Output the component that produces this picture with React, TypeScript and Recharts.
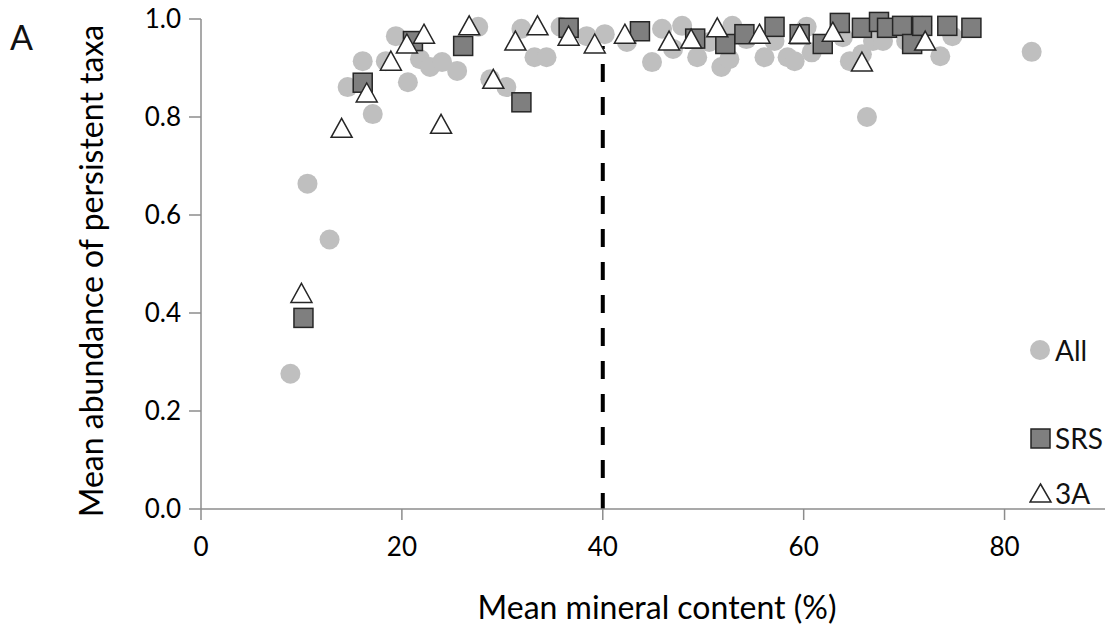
import { ScatterChart, Scatter, XAxis, YAxis, ReferenceLine, Label } from 'recharts'

// mean mineral content (%) vs mean abundance of persistent taxa
const allSites = [
  [8.9, 0.276], [10.6, 0.664], [12.8, 0.55], [14.6, 0.861], [16.1, 0.914], [17.1, 0.806],
  [18.4, 0.914], [19.4, 0.965], [20.6, 0.871], [21.8, 0.918], [22.8, 0.902], [24.0, 0.912],
  [25.5, 0.894], [27.6, 0.984], [28.8, 0.877], [30.4, 0.861], [31.9, 0.98], [33.2, 0.922],
  [34.4, 0.922], [35.8, 0.984], [38.4, 0.965], [40.2, 0.969], [42.4, 0.953], [44.9, 0.912],
  [45.9, 0.98], [47.0, 0.939], [47.9, 0.986], [49.4, 0.922], [50.6, 0.953], [51.8, 0.902],
  [52.6, 0.918], [52.9, 0.986], [54.3, 0.959], [56.1, 0.922], [57.1, 0.955], [58.4, 0.922],
  [59.1, 0.914], [60.3, 0.984], [60.8, 0.932], [63.9, 0.963], [64.6, 0.914], [65.8, 0.928],
  [66.3, 0.8], [66.9, 0.955], [67.9, 0.955], [70.2, 0.955], [71.8, 0.986], [73.6, 0.924],
  [74.8, 0.965], [82.7, 0.933],
]

const srsSites = [
  [10.2, 0.39], [16.1, 0.87], [21.1, 0.955], [26.1, 0.945], [31.9, 0.83], [36.6, 0.982],
  [43.7, 0.975], [49.2, 0.96], [52.2, 0.949], [54.1, 0.969], [57.1, 0.984], [59.6, 0.969],
  [61.9, 0.949], [63.6, 0.992], [65.8, 0.982], [67.5, 0.994], [68.3, 0.982], [69.8, 0.986],
  [70.8, 0.949], [71.8, 0.986], [74.3, 0.986], [76.7, 0.982],
]

const sites3A = [
  [10.0, 0.44], [14.0, 0.777], [16.5, 0.849], [18.9, 0.914], [20.5, 0.949], [22.2, 0.969],
  [23.9, 0.785], [26.7, 0.986], [29.1, 0.877], [31.3, 0.955], [33.5, 0.986], [36.6, 0.965],
  [39.2, 0.949], [42.2, 0.969], [46.6, 0.955], [48.8, 0.959], [51.4, 0.982], [55.6, 0.969],
  [59.6, 0.969], [62.9, 0.973], [65.8, 0.912], [72.1, 0.955],
]

const xTicks = [0, 20, 40, 60, 80]
const yTicks = [0, 0.2, 0.4, 0.6, 0.8, 1.0]
const threshold = 40
const thresholdTop = 0.945

const toPoints = (rows: number[][]) => rows.map(([mineral, abundance]) => ({ mineral, abundance }))

const FONT = 'Lato, "Open Sans", sans-serif'
const AXIS = '#8c8c8c'

const Dot = ({ cx, cy }: any) => <circle cx={cx} cy={cy} r={10} fill="#bfbfbf" />
const Square = ({ cx, cy }: any) => (
  <rect x={cx - 9.5} y={cy - 9.5} width={19} height={19} fill="#7f7f7f" stroke="#262626" strokeWidth={1.5} />
)
const Triangle = ({ cx, cy }: any) => (
  <polygon
    points={`${cx},${cy - 10} ${cx + 10.5},${cy + 9} ${cx - 10.5},${cy + 9}`}
    fill="#fff"
    stroke="#262626"
    strokeWidth={1.5}
  />
)

function LegendKey() {
  const row = { position: 'absolute', left: 0, display: 'flex', alignItems: 'center', height: 30 } as const
  return (
    <div style={{ position: 'absolute', left: 1029, top: 0, fontFamily: FONT, fontSize: 28, color: '#111' }}>
      <div style={{ ...row, top: 335 }}>
        <svg width={26} height={24}><circle cx={11} cy={12} r={10} fill="#bfbfbf" /></svg>
        <span>All</span>
      </div>
      <div style={{ ...row, top: 423 }}>
        <svg width={26} height={24}><rect x={2} y={3} width={19} height={19} fill="#7f7f7f" stroke="#262626" strokeWidth={1.5} /></svg>
        <span>SRS</span>
      </div>
      <div style={{ ...row, top: 478 }}>
        <svg width={26} height={24}><polygon points="11.5,3 22,21 1,21" fill="#fff" stroke="#262626" strokeWidth={1.5} /></svg>
        <span>3A</span>
      </div>
    </div>
  )
}

export default function App() {
  return (
    <div style={{ position: 'absolute', left: 0, top: 0, width: 1110, height: 628, background: '#fff' }}>
      <ScatterChart width={1110} height={628} margin={{ top: 19, right: 5, bottom: 0, left: 0 }}>
        <XAxis
          type="number"
          dataKey="mineral"
          domain={[0, 90]}
          ticks={xTicks}
          allowDataOverflow
          height={119}
          tickSize={11}
          tickMargin={18}
          axisLine={{ stroke: AXIS, strokeWidth: 1.5 }}
          tickLine={{ stroke: AXIS, strokeWidth: 1.5 }}
          tick={{ fontSize: 26, fill: '#000', fontFamily: FONT }}
        >
          <Label
            content={() => (
              <text x={657} y={606} textAnchor="middle" dominantBaseline="central" fontSize={32} fontFamily={FONT} fill="#000">
                Mean mineral content (%)
              </text>
            )}
          />
        </XAxis>
        <YAxis
          type="number"
          dataKey="abundance"
          domain={[0, 1]}
          ticks={yTicks}
          width={201}
          tickSize={12}
          tickMargin={8}
          tickFormatter={(v: number) => v.toFixed(1)}
          axisLine={{ stroke: AXIS, strokeWidth: 1.5 }}
          tickLine={{ stroke: AXIS, strokeWidth: 1.5 }}
          tick={{ fontSize: 26, fill: '#000', fontFamily: FONT }}
        >
          <Label
            content={() => (
              <text
                x={90}
                y={271}
                transform="rotate(-90 90 271)"
                textAnchor="middle"
                dominantBaseline="central"
                fontSize={32}
                fontFamily={FONT}
                fill="#000"
              >
                Mean abundance of persistent taxa
              </text>
            )}
          />
        </YAxis>
        <Scatter data={toPoints(allSites)} shape={Dot} isAnimationActive={false} />
        <Scatter data={toPoints(srsSites)} shape={Square} isAnimationActive={false} />
        <Scatter data={toPoints(sites3A)} shape={Triangle} isAnimationActive={false} />
        <ReferenceLine
          segment={[{ x: threshold, y: thresholdTop }, { x: threshold, y: 0 }]}
          stroke="#000"
          strokeWidth={4}
          strokeDasharray="18 15"
          strokeDashoffset={15}
        />
      </ScatterChart>
      <div style={{ position: 'absolute', left: 10, top: 16, fontFamily: FONT, fontSize: 34, color: '#111' }}>A</div>
      <LegendKey />
    </div>
  )
}
